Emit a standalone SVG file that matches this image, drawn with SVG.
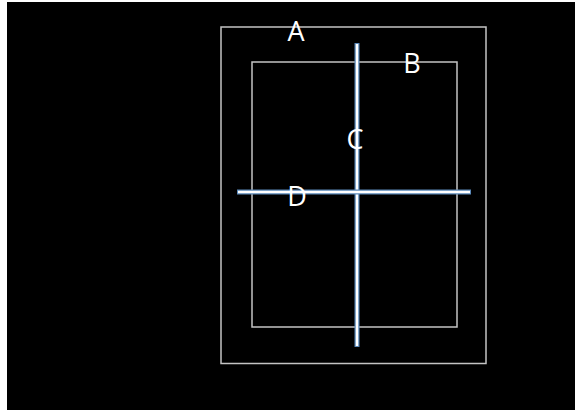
<svg xmlns="http://www.w3.org/2000/svg" width="575" height="410" viewBox="0 0 575 410">
<style>
.frame{fill:none;stroke:#c4c4c4;stroke-width:1.5}
.bar{stroke:#5a88b8;stroke-width:5;stroke-linecap:butt}
.core{stroke:#ffffff;stroke-width:2.5}
.lbl{font-family:"Open Sans","Liberation Sans",sans-serif;font-size:27px;fill:#ffffff;text-anchor:middle}
</style>
<rect x="0" y="0" width="575" height="410" fill="#ffffff"/>
<rect x="7" y="2" width="568" height="408" fill="#000000"/>
<g id="A">
<rect x="221" y="27" width="265" height="336.5" fill="#0f0f0f" class="frame"/>
<text class="lbl" x="296" y="41">A</text>
</g>
<g id="B">
<rect x="252" y="62" width="205" height="265" class="frame"/>
<text class="lbl" x="412" y="73">B</text>
</g>
<g id="connectors">
<line class="bar" x1="357" y1="43" x2="357" y2="347"/>
<line class="core" x1="357" y1="44" x2="357" y2="346"/>
<line class="bar" x1="237" y1="192" x2="471" y2="192"/>
<line class="core" x1="238" y1="192" x2="470" y2="192"/>
</g>
<g id="C">
<text class="lbl" x="355" y="149">C</text>
</g>
<g id="D">
<text class="lbl" x="297" y="206">D</text>
</g>
</svg>
